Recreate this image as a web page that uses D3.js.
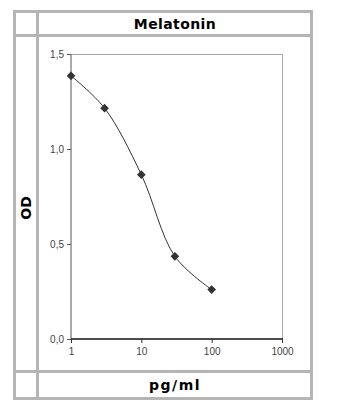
<!DOCTYPE html>
<html>
<head>
<meta charset="utf-8">
<script src="https://cdn.jsdelivr.net/npm/d3@7"></script>
<style>
  body { margin: 0; background: #fff; }
</style>
</head>
<body>
<script>
    //Data
        const concentration = [1, 3, 10, 30, 100];
        const od = [1.385, 1.215, 0.865, 0.435, 0.26];
        const yTicks = [0, 0.5, 1.0, 1.5];
        const xTicks = [1, 10, 100, 1000];
        const title = "Melatonin";
        const xTitle = "pg/ml";
        const yTitle = "OD";

    //Layout
        const width = 350;
        const height = 408;
        const plot = {left: 71, right: 282, top: 54, bottom: 339};
        const gridColor = "#b5b5b5";

        const svg = d3.select("body")
                    .append("svg")
                    .attr("width", width)
                    .attr("height", height);

    //Table frame (outer border + cell separators)
        const vLines = [13, 36, 310];
        const hLines = [10, 34, 370, 397];
        svg.selectAll(".vline")
            .data(vLines)
            .enter()
            .append("rect")
            .attr("x", d => d)
            .attr("y", 10)
            .attr("width", 3)
            .attr("height", 390)
            .attr("fill", gridColor);
        svg.selectAll(".hline")
            .data(hLines)
            .enter()
            .append("rect")
            .attr("x", 13)
            .attr("y", d => d)
            .attr("width", 300)
            .attr("height", 3)
            .attr("fill", gridColor);

    //Scales
        const xScale = d3.scaleLog()
                        .domain([1, 1000])
                        .range([plot.left, plot.right]);
        const yScale = d3.scaleLinear()
                        .domain([0, 1.5])
                        .range([plot.bottom, plot.top]);

        const fmt = d => d3.format(".1f")(d).replace(".", ",");

    //Plot border (top and right)
        svg.append("path")
            .attr("d", `M${plot.left},${plot.top + 0.5}H${plot.right + 0.5}V${plot.bottom}`)
            .attr("fill", "none")
            .attr("stroke", "#a8a8a8")
            .attr("stroke-width", 1);

    //Axes
        const leftAxis = d3.axisLeft(yScale)
                           .tickValues(yTicks)
                           .tickFormat(fmt)
                           .tickSize(4)
                           .tickPadding(3);
        const bottomAxis = d3.axisBottom(xScale)
                           .tickValues(xTicks)
                           .tickFormat(d3.format("d"))
                           .tickSize(4)
                           .tickPadding(5);

        const gy = svg.append("g")
            .attr("transform", "translate(" + plot.left + ",0)")
            .call(leftAxis);
        gy.select(".domain").attr("stroke", "#555").attr("d", `M-4,${plot.top + 0.5}H0V${plot.bottom}`);
        gy.selectAll(".tick line").attr("stroke", "#555");

        const gx = svg.append("g")
            .attr("transform", "translate(0," + plot.bottom + ")")
            .call(bottomAxis);
        gx.select(".domain").attr("stroke", "#111").attr("stroke-width", 1.5)
            .attr("d", `M${plot.left},0H${plot.right + 1}`);
        gx.selectAll(".tick line").attr("stroke", "#333");

        svg.selectAll(".tick text")
            .attr("font-family", "Liberation Sans, Arial, sans-serif")
            .attr("font-size", 10)
            .attr("fill", "#444");

    //Curve and markers
        const points = concentration.map((c, i) => ({c: c, v: od[i]}));
        const line = d3.line()
                        .x(d => xScale(d.c))
                        .y(d => yScale(d.v))
                        .curve(d3.curveCatmullRom.alpha(0.5));
        svg.append("path")
            .datum(points)
            .attr("d", line)
            .attr("fill", "none")
            .attr("stroke", "#333")
            .attr("stroke-width", 1);

        svg.selectAll(".marker")
            .data(points)
            .enter()
            .append("path")
            .attr("transform", d => "translate(" + xScale(d.c) + "," + yScale(d.v) + ")")
            .attr("d", d3.symbol(d3.symbolDiamond2, 48))
            .attr("fill", "#333");

    //Titles
        const titleFont = "DejaVu Sans, Verdana, sans-serif";
        svg.append("text")
            .attr("x", 175)
            .attr("y", 29)
            .attr("text-anchor", "middle")
            .attr("font-family", titleFont)
            .attr("font-weight", "bold")
            .attr("font-size", 14)
            .attr("letter-spacing", 0.4)
            .attr("fill", "#000")
            .text(title);

        svg.append("text")
            .attr("x", 175)
            .attr("y", 390)
            .attr("text-anchor", "middle")
            .attr("font-family", titleFont)
            .attr("font-weight", "bold")
            .attr("font-size", 14)
            .attr("letter-spacing", 1.5)
            .attr("fill", "#000")
            .text(xTitle);

        svg.append("text")
            .attr("transform", "translate(31,208) rotate(-90)")
            .attr("text-anchor", "middle")
            .attr("font-family", titleFont)
            .attr("font-weight", "bold")
            .attr("font-size", 14)
            .attr("fill", "#000")
            .text(yTitle);
</script>
</body>
</html>
